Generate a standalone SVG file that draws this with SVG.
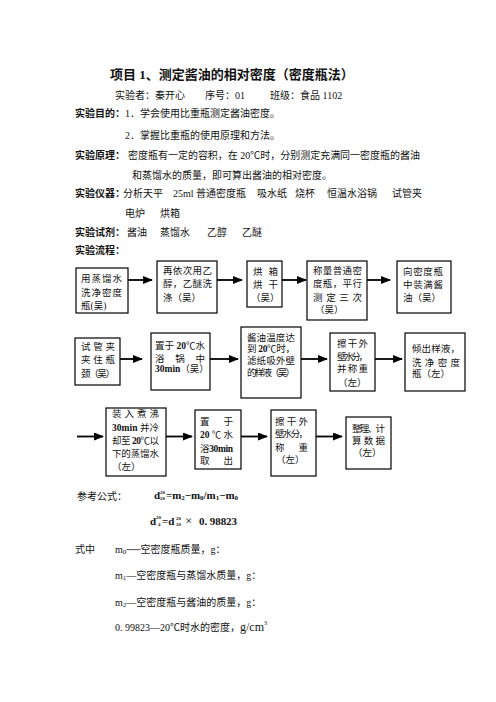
<svg xmlns="http://www.w3.org/2000/svg" width="496" height="702" viewBox="0 0 496 702">
<style>
text{font-family:"Liberation Serif","Noto Sans CJK SC",serif;fill:#111}
.t{font-size:13px;font-weight:bold}
.b{font-size:10px}
.h{font-size:10px;font-weight:bold;font-family:"Noto Sans CJK SC",sans-serif}
.n{font-size:9.5px}
.f{font-size:11px;font-weight:bold}
.s{font-size:5px;font-weight:bold}
.box{fill:#fff;stroke:#000;stroke-width:1.2}
.c{stroke:#000;stroke-width:1.8;fill:none;marker-end:url(#ah)}
</style>
<defs>
<marker id="ah" markerUnits="userSpaceOnUse" markerWidth="10" markerHeight="8" refX="9" refY="4" orient="auto">
<path d="M0,0 L10,4 L0,8 z" fill="#000"/>
</marker>
</defs>
<rect width="496" height="702" fill="#fff"/>

<text class="t" x="110" y="79">项目 1、测定酱油的相对密度（密度瓶法）</text>
<text class="b" y="99"><tspan x="115">实验者：秦开心</tspan><tspan x="205">序号：01</tspan><tspan x="270">班级：食品 1102</tspan></text>
<text class="h" x="75" y="117">实验目的：</text>
<text class="b" x="125" y="117">1．学会使用比重瓶测定酱油密度。</text>
<text class="b" x="125" y="139">2．掌握比重瓶的使用原理和方法。</text>
<text class="h" x="75" y="159">实验原理：</text>
<text class="b" x="128" y="159" textLength="292" lengthAdjust="spacing">密度瓶有一定的容积，在 20℃时，分别测定充满同一密度瓶的酱油</text>
<text class="b" x="132" y="179">和蒸馏水的质量，即可算出酱油的相对密度。</text>
<text class="h" x="75" y="197">实验仪器：</text>
<text class="b" y="197"><tspan x="123">分析天平</tspan><tspan x="173">25ml 普通密度瓶</tspan><tspan x="257">吸水纸</tspan><tspan x="295">烧杯</tspan><tspan x="327">恒温水浴锅</tspan><tspan x="392">试管夹</tspan></text>
<text class="b" y="217"><tspan x="125">电炉</tspan><tspan x="160">烘箱</tspan></text>
<text class="h" x="75" y="236">实验试剂：</text>
<text class="b" y="236"><tspan x="127">酱油</tspan><tspan x="160">蒸馏水</tspan><tspan x="207">乙醇</tspan><tspan x="242">乙醚</tspan></text>
<text class="h" x="75" y="254">实验流程：</text>

<g id="connectors">
<line class="c" x1="128" y1="280" x2="152" y2="280"/>
<line class="c" x1="217" y1="280" x2="242" y2="280"/>
<line class="c" x1="282" y1="280" x2="306" y2="280"/>
<line class="c" x1="367" y1="280" x2="390" y2="280"/>
<line class="c" x1="120" y1="359" x2="142" y2="359"/>
<line class="c" x1="210" y1="359" x2="238" y2="359"/>
<line class="c" x1="301" y1="359" x2="327" y2="359"/>
<line class="c" x1="375" y1="359" x2="402" y2="359"/>
<line class="c" x1="77" y1="436.5" x2="103" y2="436.5"/>
<line class="c" x1="166" y1="436.5" x2="192" y2="436.5"/>
<line class="c" x1="241" y1="436.5" x2="267" y2="436.5"/>
<line class="c" x1="316" y1="436.5" x2="342" y2="436.5"/>
</g>

<g id="n1"><rect class="box" x="76" y="268" width="52" height="45"/>
<text class="n" x="81" y="282" textLength="41" lengthAdjust="spacing">用蒸馏水</text>
<text class="n" x="81" y="296" textLength="41" lengthAdjust="spacing">洗净密度</text>
<text class="n" x="81" y="309">瓶(吴)</text></g>

<g id="n2"><rect class="box" x="157" y="261" width="60" height="52"/>
<text class="n" x="163" y="274" textLength="49" lengthAdjust="spacing">再依次用乙</text>
<text class="n" x="163" y="287" textLength="49" lengthAdjust="spacing">醇，乙醚洗</text>
<text class="n" x="163" y="301">涤（吴）</text></g>

<g id="n3"><rect class="box" x="247" y="261" width="35" height="46"/>
<text class="n" x="253" y="275" textLength="25" lengthAdjust="spacing">烘箱</text>
<text class="n" x="253" y="288" textLength="25" lengthAdjust="spacing">烘干</text>
<text class="n" x="251" y="301">（吴）</text></g>

<g id="n4"><rect class="box" x="307" y="261" width="60" height="59"/>
<text class="n" x="313" y="274" textLength="49" lengthAdjust="spacing">称量普通密</text>
<text class="n" x="313" y="287" textLength="49" lengthAdjust="spacing">度瓶，平行</text>
<text class="n" x="313" y="301" textLength="49" lengthAdjust="spacing">测定三次</text>
<text class="n" x="315" y="313">（吴）</text></g>

<g id="n5"><rect class="box" x="397" y="261" width="54" height="52"/>
<text class="n" x="403" y="275" textLength="40" lengthAdjust="spacing">向密度瓶</text>
<text class="n" x="403" y="288" textLength="40" lengthAdjust="spacing">中装满酱</text>
<text class="n" x="403" y="301">油（吴）</text></g>

<g id="n6"><rect class="box" x="75" y="338" width="45" height="47"/>
<text class="n" x="81" y="350" textLength="34" lengthAdjust="spacing">试管夹</text>
<text class="n" x="81" y="363" textLength="34" lengthAdjust="spacing">夹住瓶</text>
<text class="n" x="81" y="377" textLength="34" lengthAdjust="spacing">颈（吴）</text></g>

<g id="n7"><rect class="box" x="151" y="333" width="59" height="57"/>
<text class="n" x="155" y="349" textLength="50" lengthAdjust="spacing">置于 <tspan font-weight="bold">20</tspan>℃水</text>
<text class="n" x="155" y="362" textLength="50" lengthAdjust="spacing">浴锅中</text>
<text class="n" x="155" y="372"><tspan font-weight="bold">30min</tspan>（吴）</text></g>

<g id="n8"><rect class="box" x="241" y="327" width="60" height="71"/>
<text class="n" x="247" y="341" textLength="48" lengthAdjust="spacing">酱油温度达</text>
<text class="n" x="247" y="352" textLength="48" lengthAdjust="spacing">到 <tspan font-weight="bold">20</tspan>℃时，</text>
<text class="n" x="247" y="364" textLength="48" lengthAdjust="spacing">滤纸吸外壁</text>
<text class="n" x="247" y="376" textLength="48" lengthAdjust="spacing">的样液（吴）</text></g>

<g id="n9"><rect class="box" x="330" y="333" width="45" height="58"/>
<text class="n" x="337" y="347" textLength="31" lengthAdjust="spacing">擦干外</text>
<text class="n" x="337" y="360" textLength="31" lengthAdjust="spacing">壁水分，</text>
<text class="n" x="337" y="372" textLength="31" lengthAdjust="spacing">并称重</text>
<text class="n" x="338" y="386">（左）</text></g>

<g id="n10"><rect class="box" x="405" y="333" width="60" height="58"/>
<text class="n" x="412" y="352" textLength="48" lengthAdjust="spacing">倾出样液，</text>
<text class="n" x="412" y="366" textLength="48" lengthAdjust="spacing">洗净密度</text>
<text class="n" x="412" y="377">瓶（左）</text></g>

<g id="n11"><rect class="box" x="106" y="408" width="60" height="68"/>
<text class="n" x="112" y="417" textLength="47" lengthAdjust="spacing">装入煮沸</text>
<text class="n" x="112" y="431" textLength="47" lengthAdjust="spacing"><tspan font-weight="bold">30min</tspan> 并冷</text>
<text class="n" x="112" y="444" textLength="47" lengthAdjust="spacing">却至 <tspan font-weight="bold">20</tspan>℃以</text>
<text class="n" x="112" y="457" textLength="47" lengthAdjust="spacing">下的蒸馏水</text>
<text class="n" x="112" y="470">（左）</text></g>

<g id="n12"><rect class="box" x="195" y="410" width="46" height="59"/>
<text class="n" x="200" y="425" textLength="33" lengthAdjust="spacing">置于</text>
<text class="n" x="200" y="438" textLength="33" lengthAdjust="spacing"><tspan font-weight="bold">20</tspan> ℃ 水</text>
<text class="n" x="200" y="452" textLength="33" lengthAdjust="spacing">浴<tspan font-weight="bold">30min</tspan></text>
<text class="n" x="200" y="464" textLength="33" lengthAdjust="spacing">取出</text></g>

<g id="n13"><rect class="box" x="271" y="410" width="45" height="66"/>
<text class="n" x="275" y="425" textLength="33" lengthAdjust="spacing">擦干外</text>
<text class="n" x="275" y="437" textLength="33" lengthAdjust="spacing">壁水分，</text>
<text class="n" x="275" y="451" textLength="33" lengthAdjust="spacing">称重</text>
<text class="n" x="276" y="463">（左）</text></g>

<g id="n14"><rect class="box" x="346" y="417" width="45" height="52"/>
<text class="n" x="352" y="432" textLength="33" lengthAdjust="spacing">整理、计</text>
<text class="n" x="352" y="444" textLength="33" lengthAdjust="spacing">算数据</text>
<text class="n" x="353" y="456">（左）</text></g>

<text class="b" x="77" y="500">参考公式：</text>
<text class="f" x="154" y="499" font-size="12">d</text>
<text class="s" x="160" y="494">20</text>
<text class="s" x="160" y="500">20</text>
<text class="f" x="166" y="499" textLength="72" lengthAdjust="spacingAndGlyphs">=m<tspan font-size="7" dy="1">2</tspan><tspan dy="-1">−m</tspan><tspan font-size="7" dy="1">0</tspan><tspan dy="-1">/m</tspan><tspan font-size="7" dy="1">1</tspan><tspan dy="-1">−m</tspan><tspan font-size="7" dy="1">0</tspan></text>

<text class="f" x="150" y="525">d</text>
<text class="s" x="156" y="519">20</text>
<text class="s" x="158" y="526">4</text>
<text class="f" x="162" y="525">=d</text>
<text class="s" x="176" y="520">20</text>
<text class="s" x="176" y="526">20</text>
<text x="185" y="525" font-size="13">×</text>
<text class="f" x="199" y="525" textLength="38" lengthAdjust="spacing">0. 98823</text>

<text class="b" x="75" y="553">式中</text>
<text class="b" x="115" y="553">m<tspan font-size="7" dy="1">0</tspan><tspan dy="-1">──空密度瓶质量，g：</tspan></text>
<text class="b" x="115" y="579">m<tspan font-size="7" dy="1">1</tspan><tspan dy="-1">—空密度瓶与蒸馏水质量，g：</tspan></text>
<text class="b" x="115" y="606">m<tspan font-size="7" dy="1">2</tspan><tspan dy="-1">—空密度瓶与酱油的质量，g：</tspan></text>
<text class="b" x="115" y="631">0. 99823—20℃时水的密度，<tspan font-size="12">g/cm</tspan><tspan font-size="6" dy="-6">3</tspan></text>
</svg>
